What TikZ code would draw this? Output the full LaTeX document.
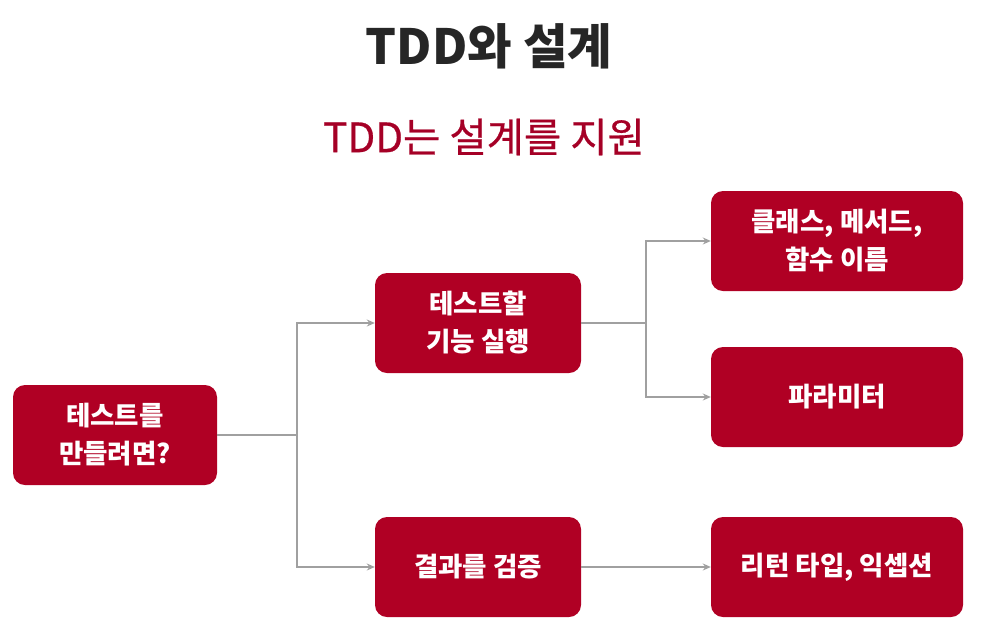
\documentclass[tikz,border=0pt]{standalone}
\usepackage{fontspec}
\setmainfont{Noto Sans CJK KR}
\newfontfamily\krmed[FakeBold=0.6]{Noto Sans CJK KR}
\usetikzlibrary{arrows.meta}
\definecolor{boxred}{RGB}{176,0,36}
\definecolor{subred}{RGB}{165,0,38}
\definecolor{titlegray}{RGB}{38,38,38}
\definecolor{linegray}{RGB}{160,160,160}
\tikzset{
  redbox/.style={fill=boxred, rounded corners=12pt, text=white, align=center,
    font=\fontsize{26.5}{38}\selectfont\bfseries, inner sep=0pt},
  conn/.style={draw=linegray, line width=1.5pt},
  arr/.style={conn, -{Stealth[length=8pt,width=7pt]}},
}
\begin{document}
\begin{tikzpicture}[x=1pt,y=-1pt]
\useasboundingbox (0,0) rectangle (997,638);
\node (title) at (489,46) {\fontsize{48.5}{54}\selectfont\bfseries\color{titlegray}TDD와 설계};
\node (sub) at (484,137) {\krmed\fontsize{40.5}{46}\selectfont\color{subred}TDD는 설계를 지원};
\node[redbox, minimum width=204pt, minimum height=100pt] (a) at (115,435) {테스트를\\만들려면?};
\node[redbox, minimum width=206pt, minimum height=100pt] (b) at (478,323) {테스트할\\기능 실행};
\node[redbox, minimum width=206pt, minimum height=100pt] (c) at (478,567) {결과를 검증};
\node[redbox, minimum width=252pt, minimum height=100pt] (d) at (837,241) {클래스, 메서드,\\함수 이름};
\node[redbox, minimum width=252pt, minimum height=100pt] (e) at (837,397) {파라미터};
\node[redbox, minimum width=252pt, minimum height=100pt] (f) at (837,567) {리턴 타입, 익셉션};
\coordinate (j1) at (297,435);
\coordinate (j2) at (646,323);
\draw[conn] (a.east) -- (j1);
\draw[arr] (j1) |- (b.west);
\draw[arr] (j1) |- (c.west);
\draw[conn] (b.east) -- (j2);
\draw[arr] (j2) |- (d.west);
\draw[arr] (j2) |- (e.west);
\draw[arr] (c.east) -- (f.west);
\end{tikzpicture}
\end{document}
